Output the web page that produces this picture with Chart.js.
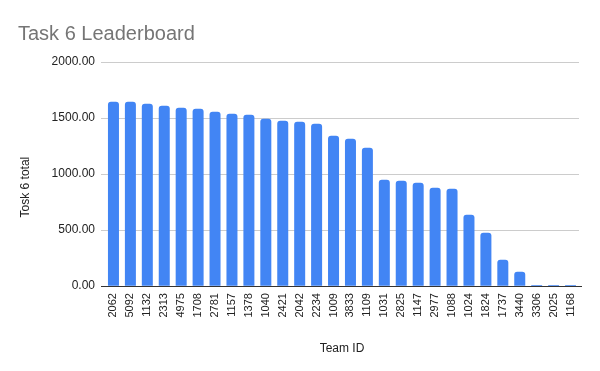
<!DOCTYPE html>
<html>
<head>
<meta charset="utf-8">
<script src="https://cdn.jsdelivr.net/npm/chart.js@4"></script>
<style>
  html, body { margin: 0; padding: 0; background: #fff; }
  #wrap { width: 600px; height: 371px; }
</style>
</head>
<body>
<div id="wrap"><canvas id="leaderChart" width="600" height="371"></canvas></div>
<script>
const teamIds = ['2062', '5092', '1132', '2313', '4975', '1708', '2781', '1157', '1378', '1040',
  '2421', '2042', '2234', '1009', '3833', '1109', '1031', '2825', '1147', '2977',
  '1088', '1024', '1824', '1737', '3440', '3306', '2025', '1168']
const task6Totals = [1645, 1645, 1627, 1610, 1592, 1583, 1556, 1538, 1529, 1493,
  1476, 1467, 1449, 1342, 1315, 1235, 949, 940, 922, 878,
  869, 637, 476, 235, 128, 10, 10, 10]
const yTicks = [0, 500, 1000, 1500, 2000]
const yTitle = 'Tosk 6 total'

const font = 'Arial, "Liberation Sans", sans-serif'
const ctx = document.getElementById('leaderChart').getContext('2d')

// y title sits a bit below the middle of the plot, like the sheets chart
// and the base line runs slightly past the plot on both sides
const sheetsLookPlugin = {
  id: 'sheetsLook',
  afterDraw(c) {
    const g = c.ctx
    const area = c.chartArea
    g.save()
    g.strokeStyle = '#333'
    g.lineWidth = 1
    const y = Math.round(area.bottom) + 0.5
    g.beginPath()
    g.moveTo(area.left - 4, y)
    g.lineTo(area.right + 3, y)
    g.stroke()

    g.translate(26, (area.top + area.bottom) / 2 + 13)
    g.rotate(-Math.PI / 2)
    g.font = '12px ' + font
    g.fillStyle = '#222'
    g.textAlign = 'center'
    g.textBaseline = 'middle'
    g.fillText(yTitle, 0, 0)
    g.restore()
  }
}

const chart = new Chart(ctx, {
  type: 'bar',
  data: {
    labels: teamIds,
    datasets: [
      {
        label: yTitle,
        data: task6Totals,
        backgroundColor: '#4285f4',
        borderRadius: { topLeft: 3, topRight: 3 },
        borderSkipped: 'start',
        categoryPercentage: 0.65,
        barPercentage: 1
      }
    ]
  },
  options: {
    responsive: false,
    animation: false,
    layout: { padding: { left: 18, right: 21, top: 0, bottom: 15 } },
    plugins: {
      legend: { display: false },
      tooltip: { enabled: false },
      title: {
        display: true,
        text: 'Task 6 Leaderboard',
        align: 'start',
        color: '#757575',
        font: { family: font, size: 20, weight: 'normal' },
        padding: { top: 22, bottom: 16 }
      }
    },
    scales: {
      x: {
        grid: { display: false, drawTicks: false },
        border: { display: false },
        ticks: {
          autoSkip: false,
          maxRotation: 90,
          minRotation: 90,
          padding: 7,
          color: '#222',
          font: { family: font, size: 11 }
        },
        title: {
          display: true,
          text: 'Team ID',
          color: '#222',
          font: { family: font, size: 12 },
          padding: { top: 17, bottom: 0 }
        }
      },
      y: {
        min: 0,
        max: 2000,
        afterBuildTicks: scale => {
          scale.ticks = yTicks.map(v => ({ value: v }))
        },
        afterFit: scale => {
          scale.width = 87
        },
        grid: { color: '#cccccc', drawTicks: true, tickLength: 4 },
        border: { display: false },
        ticks: {
          padding: 6,
          color: '#222',
          font: { family: font, size: 12 },
          callback: v => v.toFixed(2)
        }
      }
    }
  },
  plugins: [sheetsLookPlugin]
})
</script>
</body>
</html>
